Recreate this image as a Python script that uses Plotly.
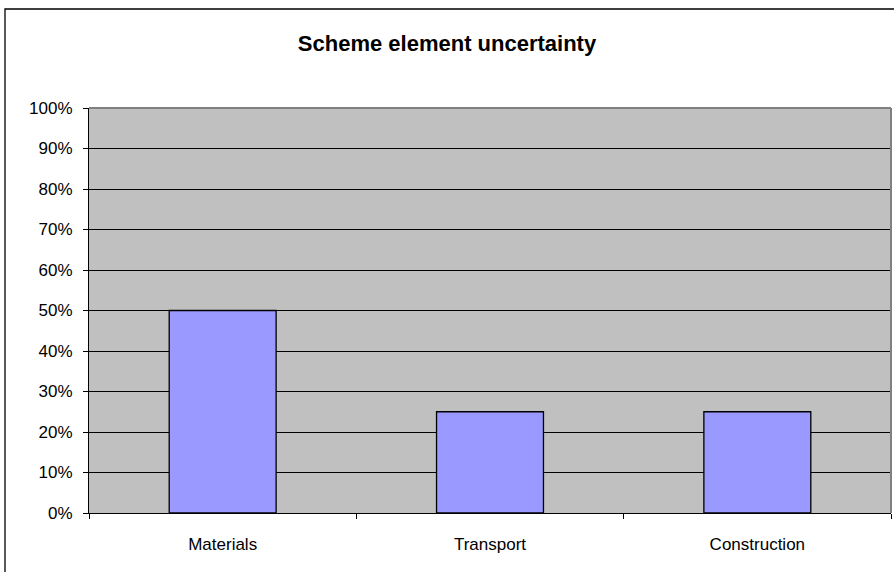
import plotly.graph_objects as go

categories = ["Materials", "Transport", "Construction"]
values = [0.50, 0.25, 0.25]
y_ticks = [i / 10 for i in range(11)]
y_tick_labels = [f"{i*10}%" for i in range(11)]

W, H = 894, 572
L, R, T, B = 89, 3, 108, 59
pw, ph = W - L - R, H - T - B

def px(x):
    return (x - L) / pw

def py(y):
    return (H - B - y) / ph

FONT = "Liberation Sans, Arial, sans-serif"

fig = go.Figure(go.Bar(
    x=categories, y=values, width=0.4,
    marker=dict(color="#9999FF", line=dict(color="black", width=1.3)),
))

fig.update_layout(
    width=W, height=H,
    margin=dict(l=L, r=R, t=T, b=B),
    paper_bgcolor="white", plot_bgcolor="#C0C0C0",
    showlegend=False,
    font=dict(family=FONT, size=17, color="black"),
    title=dict(text="<b>Scheme element uncertainty</b>", x=0.5, xanchor="center",
               y=1 - 43 / H, yanchor="middle",
               font=dict(size=22, family=FONT, color="black")),
)
fig.update_xaxes(
    type="category", tickson="boundaries", ticks="outside", ticklen=5,
    tickcolor="black", showline=True, linecolor="black", linewidth=1,
    showgrid=False, ticklabelstandoff=16,
)
fig.update_yaxes(
    range=[0, 1], tickvals=y_ticks, ticktext=y_tick_labels,
    ticks="outside", ticklen=5, tickcolor="black",
    showline=True, linecolor="black", linewidth=1,
    showgrid=True, gridcolor="black", gridwidth=1, zeroline=False,
    ticklabelstandoff=7,
)
# top and right borders of plot area (gray)
fig.add_shape(type="line", xref="paper", yref="paper", x0=0, x1=1, y0=1, y1=1,
              line=dict(color="#808080", width=2))
fig.add_shape(type="line", xref="paper", yref="paper", x0=1, x1=1, y0=0, y1=1,
              line=dict(color="#808080", width=2))
# outer chart border (extends beyond the right and bottom edges)
fig.add_shape(type="rect", xref="paper", yref="paper",
              x0=px(5), x1=px(910), y0=py(590), y1=py(9),
              line=dict(color="black", width=1.3), layer="below")

fig.write_html("out.html", config={"displayModeBar": False},
               post_script="document.body.style.margin='0px';")
